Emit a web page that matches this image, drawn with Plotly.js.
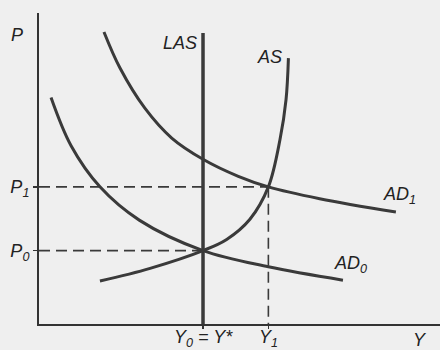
<!DOCTYPE html>
<html>
<head>
<meta charset="utf-8">
<script src="https://cdn.plot.ly/plotly-3.0.1.min.js"></script>
<style>html,body{margin:0;padding:0;background:#efefef;}#chart{width:440px;height:350px;}</style>
</head>
<body>
<div id="chart"></div>
<script>
// Schematic AD-AS diagram values (arbitrary units, 0-100 on both axes)
const yStar = 40.9;      // Y0 = Y*
const y1 = 57.2;         // Y1
const p0 = 23.6;         // P0
const p1 = 44.1;         // P1
const lasTop = 93.6;

const ad0X = [3.0, 8, 15.2, 25, 40.9, 57.2, 75.8];
const ad0Y = [72.8, 57.3, 44.1, 33.4, 23.6, 18.4, 14.1];

const ad1X = [16.2, 20.2, 26.4, 33.1, 41.0, 49.7, 57.2, 70, 89.0];
const ad1Y = [93.9, 82.3, 69.4, 59.8, 52.9, 47.5, 44.1, 40.3, 36.0];

const asX = [15.2, 27.7, 40.9, 46.8, 52.6, 57.2, 60.1, 61.6, 62.2];
const asY = [13.8, 17.9, 23.6, 27.2, 33.7, 44.1, 59.3, 72.1, 85.5];

const xTickVals = [yStar, y1];
const xTickText = ['<i>Y<sub>0</sub> = Y*</i>', '<i>Y<sub>1</sub></i>'];
const yTickVals = [p0, p1];
const yTickText = ['<i>P<sub>0</sub></i>', '<i>P<sub>1</sub></i>'];

const ink = '#3a3a3a';
const font = {family: 'Liberation Sans, Arial, sans-serif', size: 18, color: '#222'};

const traces = [
  {x: [0, y1], y: [p1, p1], mode: 'lines', line: {color: ink, width: 1.6, dash: '11px,6px'}},
  {x: [y1, y1], y: [p1, 0], mode: 'lines', line: {color: ink, width: 1.6, dash: '11px,6px'}},
  {x: [0, yStar], y: [p0, p0], mode: 'lines', line: {color: ink, width: 1.6, dash: '11px,6px'}},
  {x: [yStar, yStar], y: [0, lasTop], mode: 'lines', line: {color: ink, width: 3.5}},
  {x: ad0X, y: ad0Y, mode: 'lines', line: {color: ink, width: 3, shape: 'spline'}},
  {x: ad1X, y: ad1Y, mode: 'lines', line: {color: ink, width: 3, shape: 'spline'}},
  {x: asX, y: asY, mode: 'lines', line: {color: ink, width: 3, shape: 'spline'}}
];

const base = {xref: 'x', yref: 'y', showarrow: false, font: font, xanchor: 'center', yanchor: 'middle'};
const annotations = [
  {text: '<i>LAS</i>', x: 35.2, y: 90.4},
  {text: '<i>AS</i>', x: 57.6, y: 85.7},
  {text: '<i>AD<sub>1</sub></i>', x: 89.8, y: 41.2},
  {text: '<i>AD<sub>0</sub></i>', x: 77.8, y: 19.0},
  {text: '<i>P</i>', x: -0.056, y: 0.929, xref: 'paper', yref: 'paper'},
  {text: '<i>Y</i>', x: 0.950, y: -0.052, xref: 'paper', yref: 'paper'}
].concat(xTickVals.map((v, i) => ({text: xTickText[i], x: v, y: -0.046, yref: 'paper'})))
 .map(a => Object.assign({}, base, a));

const layout = {
  width: 440, height: 350,
  margin: {l: 39, r: 0, t: 13, b: 26},
  paper_bgcolor: '#efefef', plot_bgcolor: '#efefef',
  showlegend: false,
  xaxis: {range: [0, 100], showgrid: false, zeroline: false, showline: true, linewidth: 2, linecolor: '#333',
          tickvals: xTickVals, showticklabels: false, ticks: 'outside', ticklen: 3, tickwidth: 1.5, tickcolor: '#333',
          fixedrange: true},
  yaxis: {range: [0, 100], showgrid: false, zeroline: false, showline: true, linewidth: 2, linecolor: '#333',
          tickvals: yTickVals, ticktext: yTickText, ticks: 'outside', ticklen: 4, tickwidth: 1.5, tickcolor: '#333',
          tickfont: font, fixedrange: true},
  annotations: annotations
};

Plotly.newPlot('chart', traces, layout, {staticPlot: true, displayModeBar: false});
</script>
</body>
</html>
